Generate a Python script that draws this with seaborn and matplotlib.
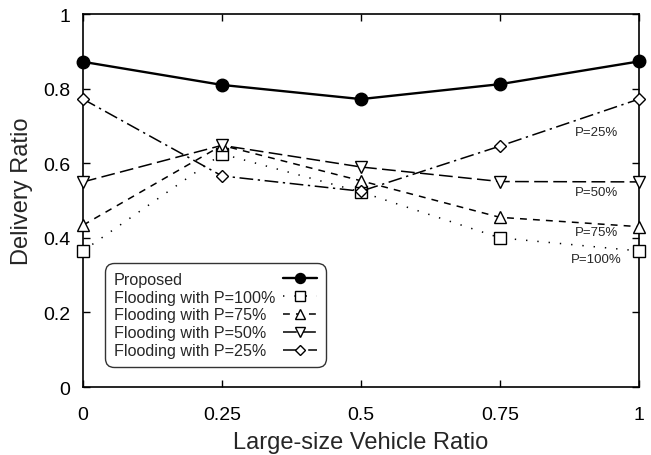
import numpy as np
import pandas as pd
import seaborn as sns
import matplotlib
matplotlib.use("Agg")
import matplotlib.pyplot as plt

# data
x_ratio = [0, 0.25, 0.5, 0.75, 1]
proposed = [0.872, 0.810, 0.772, 0.812, 0.873]
p100 = [0.365, 0.625, 0.523, 0.400, 0.365]
p75 = [0.434, 0.648, 0.553, 0.455, 0.430]
p50 = [0.550, 0.648, 0.590, 0.551, 0.550]
p25 = [0.772, 0.566, 0.525, 0.646, 0.772]
names = ["Proposed", "Flooding with P=100%", "Flooding with P=75%",
         "Flooding with P=50%", "Flooding with P=25%"]
end_labels = ["P=25%", "P=50%", "P=75%", "P=100%"]
end_label_y = [0.684, 0.523, 0.416, 0.343]
xticks = [0, 0.25, 0.5, 0.75, 1]
xticklabels = ["0", "0.25", "0.5", "0.75", "1"]
yticks = [0, 0.2, 0.4, 0.6, 0.8, 1]
yticklabels = ["0", "0.2", "0.4", "0.6", "0.8", "1"]

sns.set_style("ticks")
plt.rcParams["font.family"] = ["Liberation Sans", "DejaVu Sans"]

fig = plt.figure(figsize=(6.51, 4.56), dpi=100)
ax = fig.add_axes([0.1275, 0.149, 0.854, 0.818])

styles = [
    dict(marker="o", ms=9, mfc="black", lw=1.7, ls="-"),
    dict(marker="s", ms=9, mfc="white", lw=1.1, ls=(0, (0.9, 6.5))),
    dict(marker="^", ms=8.5, mfc="white", lw=1.1, ls=(0, (4.5, 4))),
    dict(marker="v", ms=8.5, mfc="white", lw=1.1, ls=(0, (9, 3.5))),
    dict(marker="D", ms=6.5, mfc="white", lw=1.1, ls=(0, (9, 3, 1.5, 3))),
]
series = [proposed, p100, p75, p50, p25]
for vals, name, st in zip(series, names, styles):
    sns.lineplot(x=x_ratio, y=vals, ax=ax, color="black", label=name,
                 marker=st["marker"], markersize=st["ms"],
                 markerfacecolor=st["mfc"], markeredgecolor="black",
                 markeredgewidth=1.0, linewidth=st["lw"],
                 linestyle=st["ls"], clip_on=False, zorder=3)

ax.set_xlim(0, 1)
ax.set_ylim(0, 1)
ax.set_xticks(xticks)
ax.set_xticklabels(xticklabels)
ax.set_yticks(yticks)
ax.set_yticklabels(yticklabels)
ax.tick_params(direction="in", length=5, width=1, labelsize=14,
               top=True, right=True, colors="black")
ax.tick_params(axis="x", pad=13.5)
ax.tick_params(axis="y", pad=9)
for s in ax.spines.values():
    s.set_linewidth(1.2)
    s.set_color("black")
ax.set_xlabel("Large-size Vehicle Ratio", fontsize=17, labelpad=6)
ax.set_ylabel("Delivery Ratio", fontsize=17)
ax.yaxis.set_label_coords(-0.09, 0.528)

# labels near right end
for txt, yv in zip(end_labels, end_label_y):
    ax.text(0.924, yv, txt, fontsize=9.5, ha="center", va="center")

leg = ax.legend(loc="lower left", bbox_to_anchor=(0.0396, 0.0536),
                borderaxespad=0, markerfirst=False, fontsize=11.6,
                frameon=True, fancybox=True, handlelength=2.1,
                handletextpad=0.5, labelspacing=0.18, borderpad=0.55)
leg.get_frame().set_edgecolor("black")
leg.get_frame().set_linewidth(1.0)
leg.get_frame().set_boxstyle("round", pad=0, rounding_size=0.55)
for h in leg.legend_handles:
    h.set_markersize(h.get_markersize() * 0.8)

# left-align legend texts while keeping handles in one column on the right
fig.canvas.draw()
renderer = fig.canvas.get_renderer()
vpack = leg._legend_handle_box.get_children()[0]
rows = vpack.get_children()
widths = [r.get_children()[0].get_window_extent(renderer).width for r in rows]
wmax = max(widths)
for r, w in zip(rows, widths):
    r.sep = r.sep + (wmax - w) * 72.0 / fig.dpi

fig.savefig("out.png", dpi=100)
